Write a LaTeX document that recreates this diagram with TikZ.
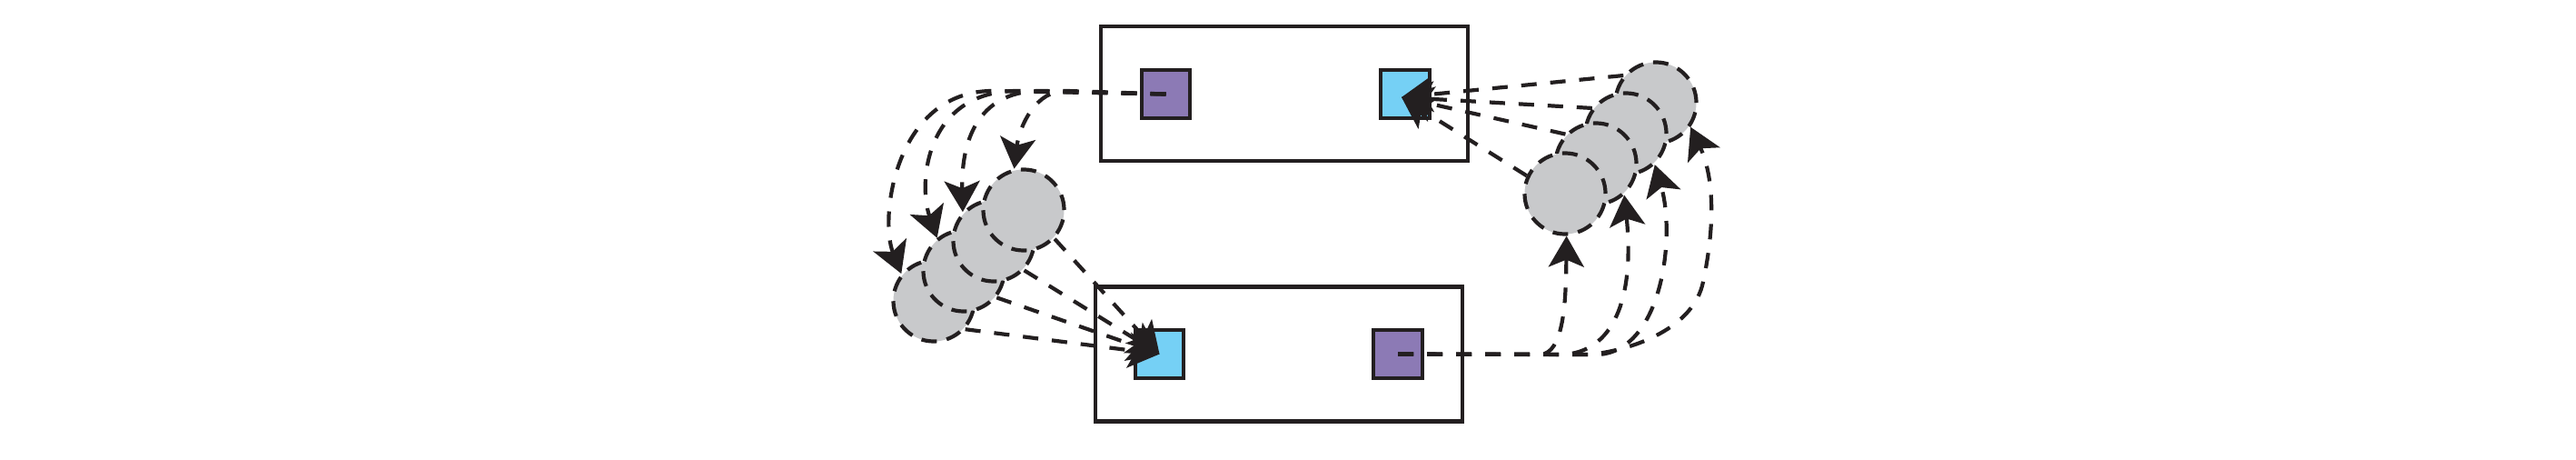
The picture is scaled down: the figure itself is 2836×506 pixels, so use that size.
\documentclass[tikz,border=0pt]{standalone}
\usetikzlibrary{arrows.meta}
\definecolor{ink}{RGB}{35,31,32}
\definecolor{boxpurple}{RGB}{140,122,181}
\definecolor{boxcyan}{RGB}{117,208,245}
\definecolor{blobgray}{RGB}{200,201,203}
\begin{document}
\begin{tikzpicture}[x=0.01cm,y=-0.01cm,
  boxframe/.style={draw=ink,line width=0.042cm,rectangle,inner sep=0pt,minimum width=4.04cm,minimum height=1.48cm},
  sq/.style={draw=ink,line width=0.038cm,rectangle,inner sep=0pt,minimum size=0.535cm},
  blob/.style={draw=ink,fill=blobgray,circle,inner sep=0pt,minimum size=0.89cm,line width=0.042cm,dash pattern=on 0.17cm off 0.11cm},
  conn/.style={draw=ink,line width=0.042cm,dash pattern=on 0.17cm off 0.15cm,-{Stealth[length=0.34cm,width=0.39cm,inset=0.08cm]}},
]
\useasboundingbox (0,0) rectangle (2836,506);
% boxes
\node[boxframe] (TB) at (1414,103) {};
\node[boxframe] (BB) at (1408,389.5) {};
\node[sq,fill=boxpurple] (P1) at (1283.5,103.5) {};
\node[sq,fill=boxcyan] (Q1) at (1547,103.5) {};
\node[sq,fill=boxcyan] (Q2) at (1276.5,389.5) {};
\node[sq,fill=boxpurple] (P2) at (1539,389.5) {};
\coordinate (T1) at (1543,107);
% left blobs (top-right one on top)
\node[blob] (C4) at (1028,331) {};
\node[blob] (C3) at (1061,298) {};
\node[blob] (C2) at (1094,265) {};
\node[blob] (C1) at (1127,231) {};
% right blobs (bottom-left one on top)
\node[blob] (R1) at (1823,113) {};
\node[blob] (R2) at (1790,147) {};
\node[blob] (R3) at (1757,180) {};
\node[blob] (R4) at (1723,213) {};
% top purple -> left blobs
\draw[conn] (P1.center) -- (1175,100) .. controls (1140,98) and (1122,140) .. (C1.103);
\draw[conn] (P1.center) -- (1150,100) .. controls (1080,98) and (1058,150) .. (C2.137);
\draw[conn] (P1.center) -- (1120,100) .. controls (1020,100) and (1010,200) .. (C3.129);
\draw[conn] (P1.center) -- (1090,100) .. controls (985,103) and (968,240) .. (C4.140);
% left blobs -> bottom cyan
\draw[conn] (C1.-43) -- (Q2.center);
\draw[conn] (C2.-44) -- (Q2.center);
\draw[conn] (C3.-39) -- (Q2.center);
\draw[conn] (C4.-42) -- (Q2.center);
% bottom purple -> right blobs
\draw[conn] (P2.center) -- (1695,390) .. controls (1722,390) and (1724,330) .. (R4.-88);
\draw[conn] (P2.center) -- (1720,390) .. controls (1775,388) and (1800,330) .. (R3.-48);
\draw[conn] (P2.center) -- (1760,390) .. controls (1830,385) and (1845,260) .. (R2.-47);
\draw[conn] (P2.center) -- (1750,390) .. controls (1800,385) and (1865,360) .. (1875,310) .. controls (1890,240) and (1885,190) .. (R1.-35);
% right blobs -> top cyan
\draw[conn] (R1.140) -- (T1);
\draw[conn] (R2.143) -- (T1);
\draw[conn] (R3.136) -- (T1);
\draw[conn] (R4.155) -- (T1);
\end{tikzpicture}
\end{document}
